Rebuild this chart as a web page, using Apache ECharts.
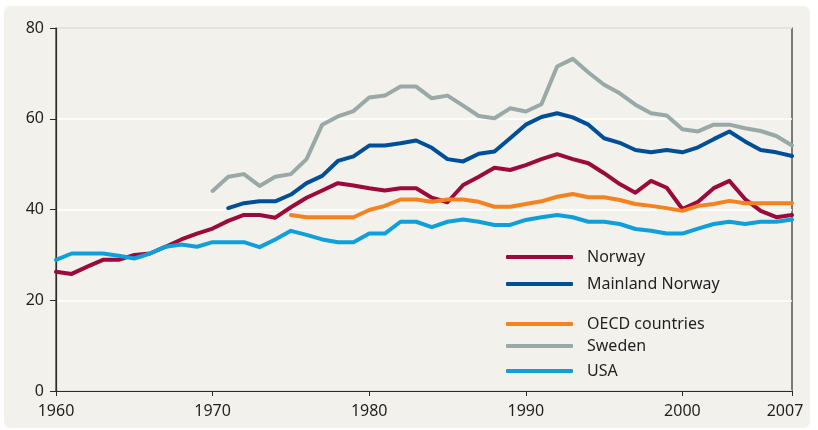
<!DOCTYPE html>
<html>
<head>
<meta charset="utf-8">
<script src="https://cdn.jsdelivr.net/npm/echarts@6/dist/echarts.min.js"></script>
<style>
  html, body { margin: 0; padding: 0; background: #ffffff; }
  #panel {
    position: absolute; left: 4px; top: 6px; width: 806px; height: 422px;
    background: #f2f1eb; border-radius: 7px;
  }
  #main { position: absolute; left: 0; top: 0; width: 818px; height: 430px; }
</style>
</head>
<body>
<div id="panel"></div>
<div id="main"></div>
<script>
// years on the x axis
const years = [
  1960, 1961, 1962, 1963, 1964, 1965, 1966, 1967, 1968, 1969,
  1970, 1971, 1972, 1973, 1974, 1975, 1976, 1977, 1978, 1979,
  1980, 1981, 1982, 1983, 1984, 1985, 1986, 1987, 1988, 1989,
  1990, 1991, 1992, 1993, 1994, 1995, 1996, 1997, 1998, 1999,
  2000, 2001, 2002, 2003, 2004, 2005, 2006, 2007
];

// Norway, 1960-2007
const norway = [
  26.3, 25.8, 27.4, 28.9, 28.9, 30.0, 30.3, 31.8, 33.4, 34.7,
  35.8, 37.5, 38.8, 38.8, 38.2, 40.5, 42.6, 44.2, 45.8, 45.3,
  44.7, 44.2, 44.7, 44.7, 42.6, 41.6, 45.4, 47.2, 49.2, 48.7,
  49.8, 51.1, 52.2, 51.1, 50.2, 48.0, 45.6, 43.7, 46.3, 44.8,
  40.1, 41.7, 44.7, 46.3, 42.3, 39.7, 38.3, 38.8
];

// Mainland Norway, 1971-2007
const mainlandNorway = [
  40.3, 41.4, 41.8, 41.8, 43.3, 45.8, 47.4, 50.7, 51.7,
  54.1, 54.1, 54.6, 55.2, 53.6, 51.1, 50.6, 52.3, 52.8, 55.7,
  58.7, 60.4, 61.2, 60.3, 58.7, 55.7, 54.7, 53.1, 52.6, 53.1,
  52.6, 53.7, 55.5, 57.2, 55.0, 53.1, 52.6, 51.8
];

// OECD countries, 1975-2007
const oecd = [
  38.8, 38.3, 38.3, 38.3, 38.3,
  39.9, 40.8, 42.2, 42.2, 41.7, 42.2, 42.2, 41.7, 40.6, 40.6,
  41.2, 41.8, 42.8, 43.4, 42.7, 42.7, 42.1, 41.2, 40.8, 40.3,
  39.7, 40.8, 41.2, 41.9, 41.4, 41.4, 41.4, 41.4
];

// Sweden, 1970-2007
const sweden = [
  44.1, 47.2, 47.8, 45.2, 47.2, 47.8, 51.1, 58.7, 60.5, 61.7,
  64.7, 65.1, 67.1, 67.1, 64.5, 65.1, 62.9, 60.6, 60.1, 62.3,
  61.6, 63.2, 71.5, 73.2, 70.2, 67.5, 65.6, 63.1, 61.2, 60.7,
  57.7, 57.2, 58.7, 58.7, 57.9, 57.3, 56.2, 54.1
];

// USA, 1960-2007
const usa = [
  28.9, 30.3, 30.3, 30.3, 29.8, 29.2, 30.3, 31.8, 32.3, 31.8,
  32.8, 32.8, 32.8, 31.7, 33.4, 35.3, 34.4, 33.4, 32.8, 32.8,
  34.7, 34.7, 37.3, 37.3, 36.1, 37.3, 37.8, 37.3, 36.6, 36.6,
  37.7, 38.3, 38.8, 38.3, 37.3, 37.3, 36.8, 35.7, 35.3, 34.7,
  34.7, 35.8, 36.8, 37.3, 36.8, 37.3, 37.3, 37.8
];

const yTicks = [0, 20, 40, 60, 80];

const FONT = 'Noto Sans';
const TEXT = '#231f20';

// pad series that start later than 1960 with nulls
const fromYear = (start, values) =>
  years.map((y) => (y < start ? null : values[y - start]));

const seriesDefs = [
  { name: 'Norway', color: '#9c0a3b', data: fromYear(1960, norway), top: 247 },
  { name: 'Mainland Norway', color: '#004f98', data: fromYear(1971, mainlandNorway), top: 274 },
  { name: 'OECD countries', color: '#f5821f', data: fromYear(1975, oecd), top: 314 },
  { name: 'Sweden', color: '#98a9a8', data: fromYear(1970, sweden), top: 336 },
  { name: 'USA', color: '#0f9fdb', data: fromYear(1960, usa), top: 361 },
];

const chart = echarts.init(document.getElementById('main'), null, { renderer: 'canvas' });

const showYear = (i) => years[i] % 10 === 0 || years[i] === 2007;

const option = {
  animation: false,
  backgroundColor: 'transparent',
  textStyle: { fontFamily: FONT, color: TEXT },
  grid: {
    left: 56, right: 26, top: 28, bottom: 39,
    show: true, borderColor: '#2b2b2b', borderWidth: 1.2,
    backgroundColor: 'transparent'
  },
  // one legend per entry so the uneven spacing can be kept
  legend: seriesDefs.map((s) => ({
    data: [s.name],
    left: 506,
    top: s.top,
    padding: 0,
    icon: 'roundRect',
    itemWidth: 67,
    itemHeight: 4,
    textStyle: {
      fontFamily: FONT, fontSize: 16, color: TEXT,
      padding: [0, 0, 0, 9], lineHeight: 20
    },
    selectedMode: false
  })),
  xAxis: {
    type: 'category',
    data: years,
    boundaryGap: false,
    axisLine: { lineStyle: { color: '#2b2b2b', width: 1.2 } },
    axisTick: {
      show: true, length: 5, inside: false,
      interval: (i) => showYear(i),
      lineStyle: { color: '#2b2b2b' }
    },
    axisLabel: {
      interval: (i) => showYear(i),
      fontFamily: FONT, fontSize: 16, color: TEXT, margin: 12,
      formatter: (v) => (v === '2007' || v === 2007 ? '{m|2007}' : String(v)),
      rich: { m: { fontFamily: FONT, fontSize: 16, color: TEXT, padding: [0, 14, 0, 0] } }
    },
    splitLine: { show: false }
  },
  yAxis: {
    type: 'value',
    min: yTicks[0],
    max: yTicks[yTicks.length - 1],
    interval: 20,
    axisLine: { show: true, lineStyle: { color: '#2b2b2b', width: 1.2 } },
    axisTick: { show: true, length: 6, lineStyle: { color: '#2b2b2b' } },
    axisLabel: { fontFamily: FONT, fontSize: 16, color: TEXT, margin: 12 },
    splitLine: { show: true, lineStyle: { color: '#ffffff', width: 1.5 } }
  },
  series: seriesDefs.map((s) => ({
    name: s.name,
    type: 'line',
    data: s.data,
    showSymbol: false,
    symbol: 'none',
    connectNulls: false,
    color: s.color,
    lineStyle: { color: s.color, width: 4, join: 'round', cap: 'round' }
  }))
};

chart.setOption(option);
</script>
</body>
</html>
